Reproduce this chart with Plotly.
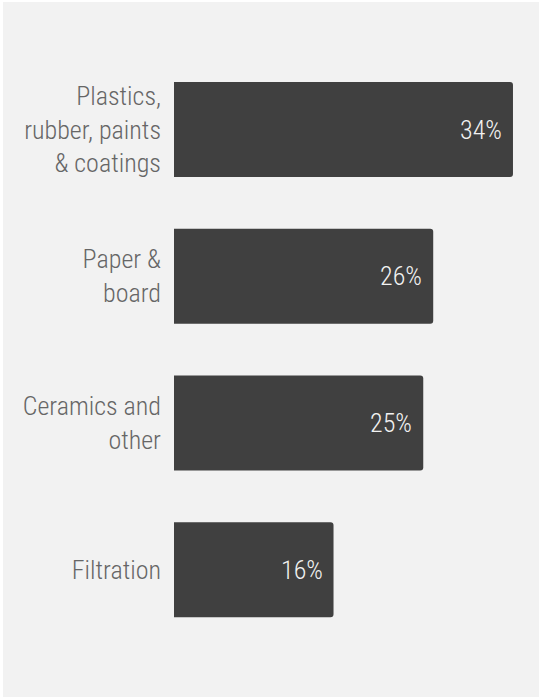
import plotly.graph_objects as go

categories = ["Plastics,<br>rubber, paints<br>& coatings", "Paper &<br>board", "Ceramics and<br>other", "Filtration"]
values = [34, 26, 25, 16]
value_labels = ["34%", "26%", "25%", "16%"]

W, H = 539, 697
ML = 174
PX_PER_UNIT = 9.97
plot_w = W - ML
xmax = plot_w / PX_PER_UNIT

ypos = list(range(len(categories)))
FONT = "Roboto Condensed, Liberation Sans Narrow, sans-serif"

fig = go.Figure()
fig.add_trace(go.Bar(
    x=values, y=ypos, orientation="h",
    marker=dict(color="#404040", line=dict(width=0)),
    width=0.648,
    hoverinfo="skip",
))
for v, y, t in zip(values, ypos, value_labels):
    fig.add_annotation(x=v, y=y, text=t, showarrow=False, xanchor="right", yanchor="middle",
                       xshift=-9, font=dict(family=FONT, size=26, color="#f2f2f2", weight=300))

fig.update_layout(
    width=W, height=H,
    margin=dict(l=ML, r=0, t=0, b=0),
    paper_bgcolor="#f2f2f2", plot_bgcolor="#f2f2f2",
    barcornerradius=3,
    showlegend=False,
    xaxis=dict(range=[0, xmax], visible=False, fixedrange=True),
    yaxis=dict(range=[3.868, -0.883], tickvals=ypos, ticktext=categories,
               showgrid=False, zeroline=False, showline=False, ticks="",
               ticklabelstandoff=12,
               tickfont=dict(family=FONT, size=26, color="#666666", weight=300)),
    shapes=[
        dict(type="rect", xref="paper", yref="paper", x0=-ML / plot_w, x1=(-ML + 3) / plot_w,
             y0=0, y1=1, fillcolor="white", line=dict(width=0), layer="below"),
        dict(type="rect", xref="paper", yref="paper", x0=-ML / plot_w, x1=1,
             y0=1 - 2 / H, y1=1, fillcolor="white", line=dict(width=0), layer="below"),
    ],
)
fig.write_html("out.html")
